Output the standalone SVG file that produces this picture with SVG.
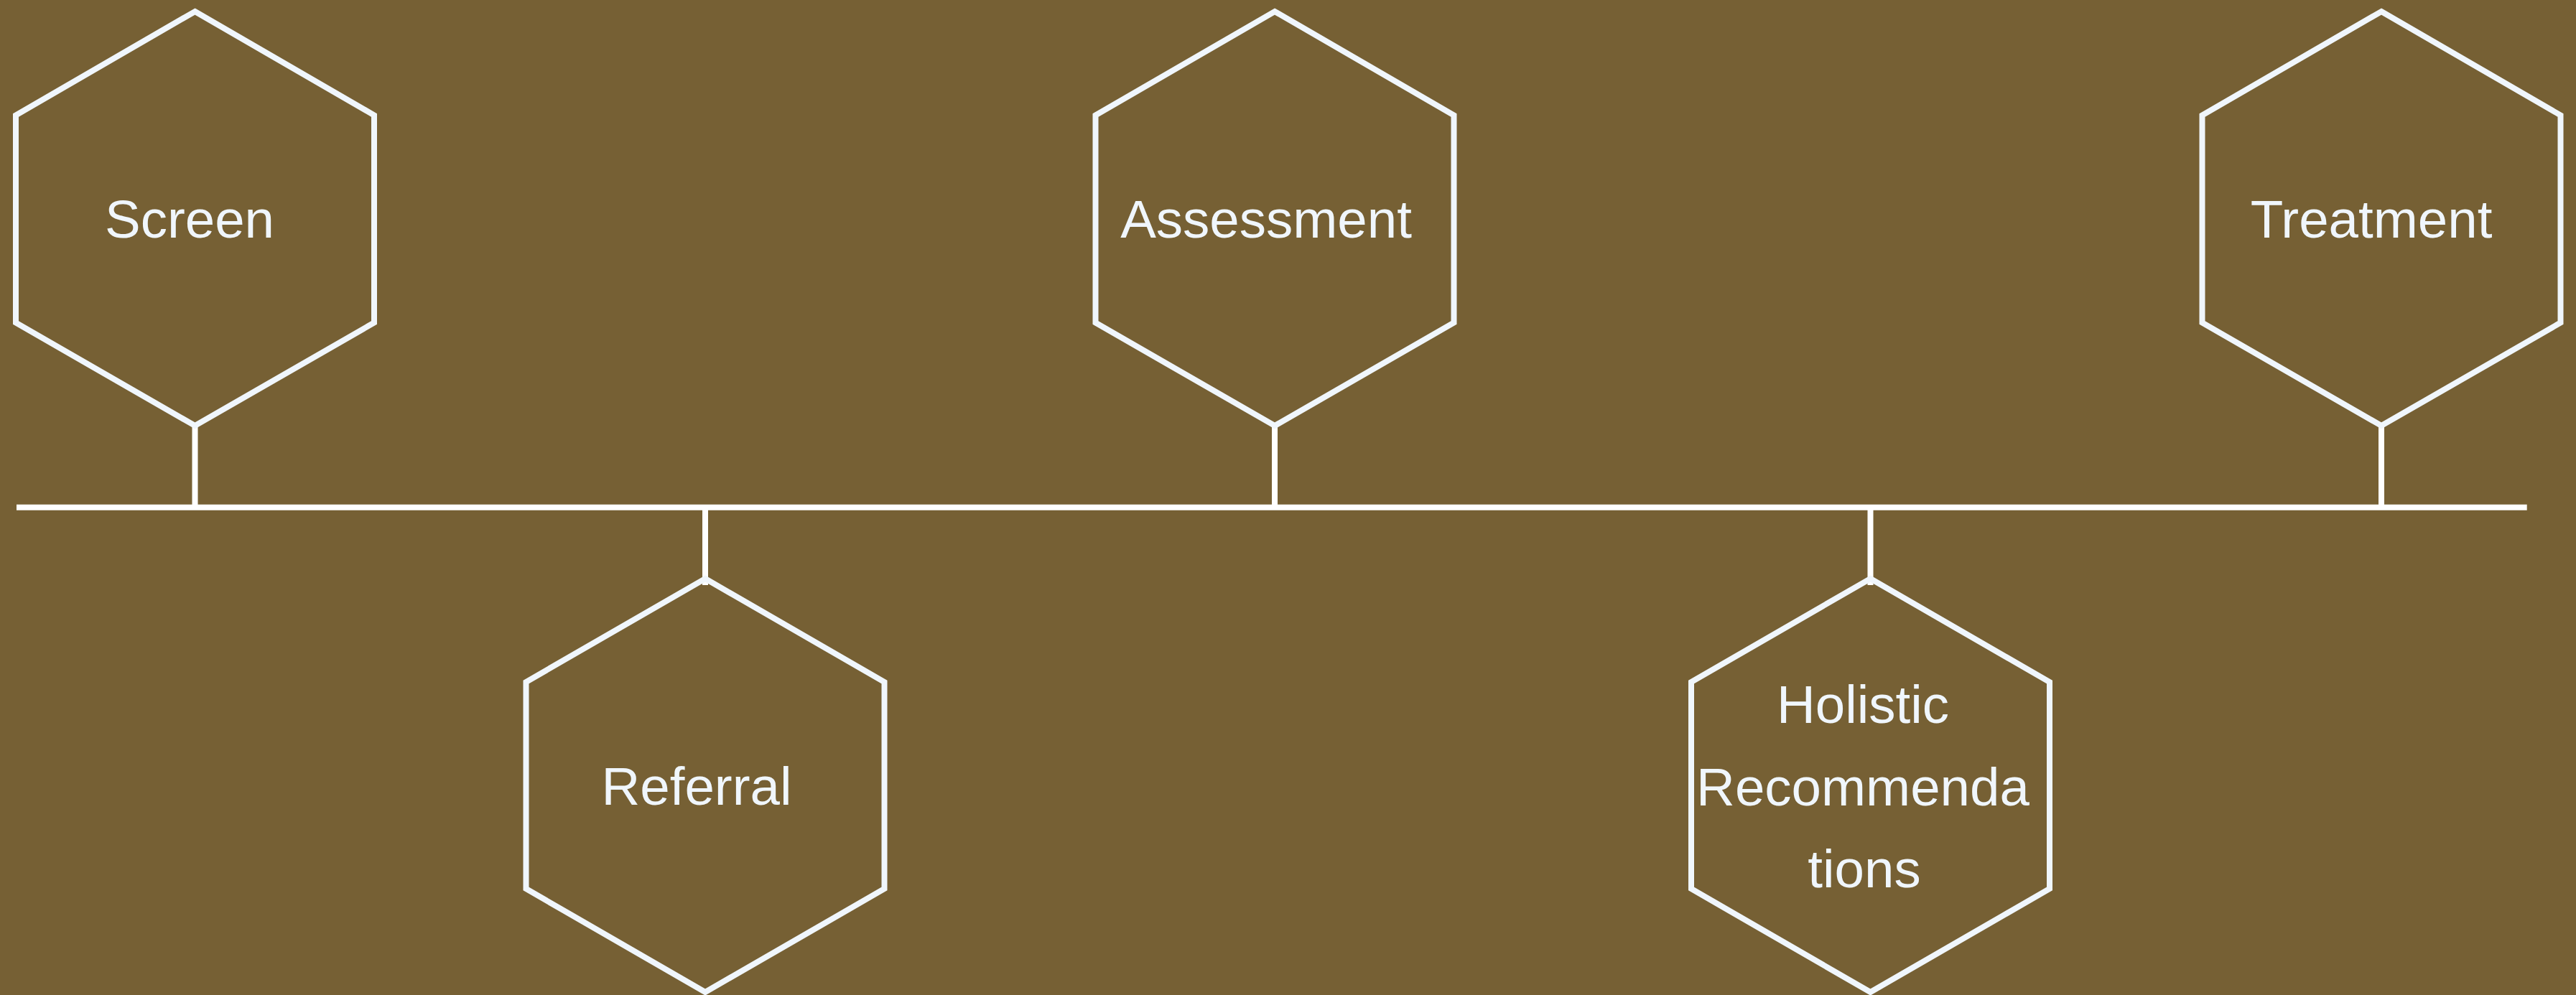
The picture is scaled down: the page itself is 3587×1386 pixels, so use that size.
<svg xmlns="http://www.w3.org/2000/svg" width="3587" height="1386" viewBox="0 0 3587 1386">
<style>
.hex{fill:none;stroke:#F0F6FC;stroke-width:8;stroke-linejoin:miter}
.lbl{font-family:"Liberation Sans",Arial,sans-serif;font-size:74.5px;fill:#F0F6FC;text-anchor:middle}
.conn{stroke:#FFFFFF;stroke-width:8;fill:none}
</style>
<rect x="0" y="0" width="3587" height="1386" fill="#766034"/>
<g id="connectors">
<line class="conn" x1="23" y1="706.7" x2="3518.7" y2="706.7"/>
<line class="conn" x1="271.5" y1="593" x2="271.5" y2="706"/>
<line class="conn" x1="982" y1="707" x2="982" y2="815"/>
<line class="conn" x1="1775" y1="593" x2="1775" y2="706"/>
<line class="conn" x1="2604.5" y1="707" x2="2604.5" y2="815"/>
<line class="conn" x1="3316" y1="593" x2="3316" y2="706"/>
</g>
<g id="screen">
<polygon class="hex" points="271.5,16 521,160.5 521,449.5 271.5,593 22,449.5 22,160.5"/>
<text class="lbl" x="264" y="331">Screen</text>
</g>
<g id="assessment">
<polygon class="hex" points="1775,16 2024.5,160.5 2024.5,449.5 1775,593 1525.5,449.5 1525.5,160.5"/>
<text class="lbl" x="1763" y="331">Assessment</text>
</g>
<g id="treatment">
<polygon class="hex" points="3316,16 3565.5,160.5 3565.5,449.5 3316,593 3066.5,449.5 3066.5,160.5"/>
<text class="lbl" x="3302" y="331">Treatment</text>
</g>
<g id="referral">
<polygon class="hex" points="982,806 1231.5,950 1231.5,1238 982,1382 732.5,1238 732.5,950"/>
<text class="lbl" x="970" y="1121">Referral</text>
</g>
<g id="holistic">
<polygon class="hex" points="2604.5,806 2854,950 2854,1238 2604.5,1382 2355,1238 2355,950"/>
<text class="lbl" x="2594" y="1007">Holistic</text>
<text class="lbl" x="2594" y="1122">Recommenda</text>
<text class="lbl" x="2596" y="1236">tions</text>
</g>
</svg>
